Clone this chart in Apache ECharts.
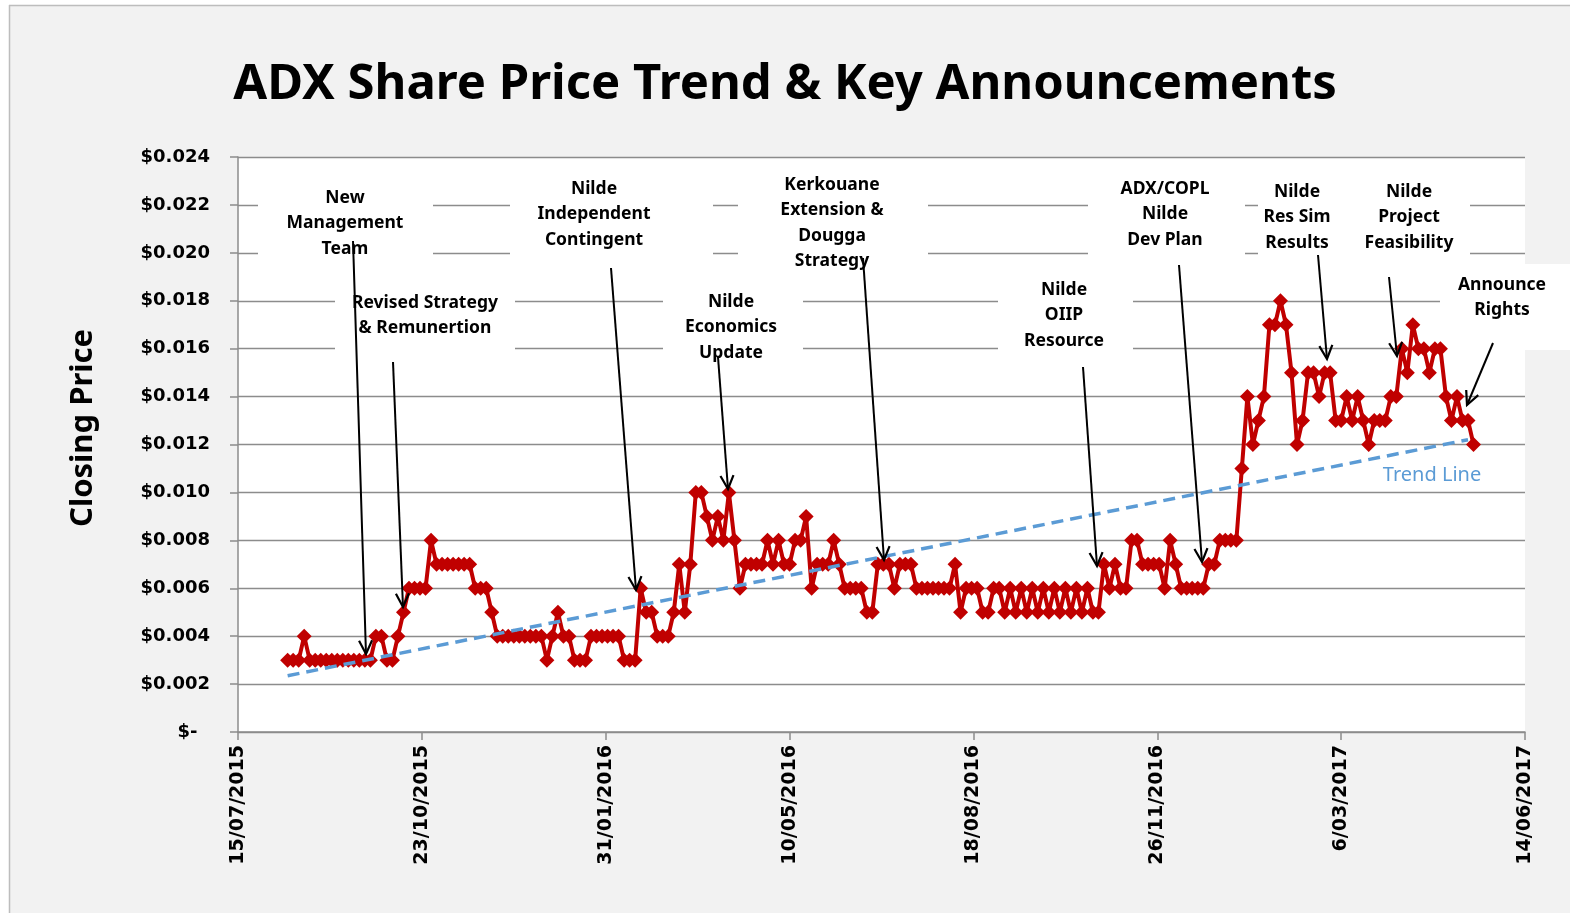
<!DOCTYPE html>
<html>
<head>
<meta charset="utf-8">
<title>ADX Share Price Trend & Key Announcements</title>
<script src="https://cdn.jsdelivr.net/npm/echarts@6/dist/echarts.min.js"></script>
<style>
  html, body { margin: 0; padding: 0; background: #fff; }
  #chart { width: 1570px; height: 913px; }
</style>
</head>
<body>
<div id="chart"></div>
<script>
// x axis counts days from 15/07/2015, one tick every 100 days
var axisStartUTC = Date.UTC(2015, 6, 15);
var xMaxDays = 700;
var xTickDays = 100;

// closing prices, one reading every 3 days starting at day 27 (11/08/2015)
var firstDay = 27;
var stepDays = 3;
var closes = [
  0.003, 0.003, 0.003, 0.004, 0.003, 0.003, 0.003, 0.003, 0.003, 0.003,
  0.003, 0.003, 0.003, 0.003, 0.003, 0.003, 0.004, 0.004, 0.003, 0.003,
  0.004, 0.005, 0.006, 0.006, 0.006, 0.006, 0.008, 0.007, 0.007, 0.007,
  0.007, 0.007, 0.007, 0.007, 0.006, 0.006, 0.006, 0.005, 0.004, 0.004,
  0.004, 0.004, 0.004, 0.004, 0.004, 0.004, 0.004, 0.003, 0.004, 0.005,
  0.004, 0.004, 0.003, 0.003, 0.003, 0.004, 0.004, 0.004, 0.004, 0.004,
  0.004, 0.003, 0.003, 0.003, 0.006, 0.005, 0.005, 0.004, 0.004, 0.004,
  0.005, 0.007, 0.005, 0.007, 0.010, 0.010, 0.009, 0.008, 0.009, 0.008,
  0.010, 0.008, 0.006, 0.007, 0.007, 0.007, 0.007, 0.008, 0.007, 0.008,
  0.007, 0.007, 0.008, 0.008, 0.009, 0.006, 0.007, 0.007, 0.007, 0.008,
  0.007, 0.006, 0.006, 0.006, 0.006, 0.005, 0.005, 0.007, 0.007, 0.007,
  0.006, 0.007, 0.007, 0.007, 0.006, 0.006, 0.006, 0.006, 0.006, 0.006,
  0.006, 0.007, 0.005, 0.006, 0.006, 0.006, 0.005, 0.005, 0.006, 0.006,
  0.005, 0.006, 0.005, 0.006, 0.005, 0.006, 0.005, 0.006, 0.005, 0.006,
  0.005, 0.006, 0.005, 0.006, 0.005, 0.006, 0.005, 0.005, 0.007, 0.006,
  0.007, 0.006, 0.006, 0.008, 0.008, 0.007, 0.007, 0.007, 0.007, 0.006,
  0.008, 0.007, 0.006, 0.006, 0.006, 0.006, 0.006, 0.007, 0.007, 0.008,
  0.008, 0.008, 0.008, 0.011, 0.014, 0.012, 0.013, 0.014, 0.017, 0.017,
  0.018, 0.017, 0.015, 0.012, 0.013, 0.015, 0.015, 0.014, 0.015, 0.015,
  0.013, 0.013, 0.014, 0.013, 0.014, 0.013, 0.012, 0.013, 0.013, 0.013,
  0.014, 0.014, 0.016, 0.015, 0.017, 0.016, 0.016, 0.015, 0.016, 0.016,
  0.014, 0.013, 0.014, 0.013, 0.013, 0.012
];

// linear trend, end points [day, price]
var trendLine = [[27, 0.00235], [669, 0.0122]];

var yMin = 0, yMax = 0.024, yStep = 0.002;

// key announcements: text lines, first line centre, white box [x, y, w, h], arrow from -> to
var announcements = [
  { lines: ['New', 'Management', 'Team'], x: 345, y: 198, box: [258, 178, 175, 88], from: [353, 241], to: [366, 654] },
  { lines: ['Revised Strategy', '& Remunertion'], x: 425, y: 303, box: [335, 285, 180, 66], from: [393, 362], to: [403, 607] },
  { lines: ['Nilde', 'Independent', 'Contingent'], x: 594, y: 189, box: [510, 170, 203, 95], from: [611, 268], to: [636, 590] },
  { lines: ['Nilde', 'Economics', 'Update'], x: 731, y: 302, box: [663, 283, 140, 85], from: [718, 357], to: [728, 489] },
  { lines: ['Kerkouane', 'Extension &', 'Dougga', 'Strategy'], x: 832, y: 185, box: [738, 168, 190, 108], from: [863, 258], to: [884, 560] },
  { lines: ['Nilde', 'OIIP', 'Resource'], x: 1064, y: 290, box: [998, 272, 135, 86], from: [1083, 367], to: [1097, 566] },
  { lines: ['ADX/COPL', 'Nilde', 'Dev Plan'], x: 1165, y: 189, box: [1088, 170, 157, 95], from: [1179, 265], to: [1202, 562] },
  { lines: ['Nilde', 'Res Sim', 'Results'], x: 1297, y: 192, box: [1258, 172, 82, 93], from: [1318, 255], to: [1327, 359] },
  { lines: ['Nilde', 'Project', 'Feasibility'], x: 1409, y: 192, box: [1340, 172, 130, 93], from: [1389, 277], to: [1397, 356] },
  { lines: ['Announce', 'Rights'], x: 1502, y: 285, box: [1440, 264, 130, 86], from: [1493, 343], to: [1467, 405] }
];

function pad2(n) { return n < 10 ? '0' + n : '' + n; }
function dayLabel(d) {
  var t = new Date(axisStartUTC + d * 86400000);
  return t.getUTCDate() + '/' + pad2(t.getUTCMonth() + 1) + '/' + t.getUTCFullYear();
}

var priceData = closes.map(function (v, i) { return [firstDay + i * stepDays, v]; });

var gridColor = '#8c8c8c';
var noteFont = 'bold 17.5px "Noto Sans", sans-serif';

var graphics = [
  // outer white strip + border of the chart area (screenshot edge)
  { type: 'rect', shape: { x: 0, y: 0, width: 1570, height: 5 }, style: { fill: '#fff' }, z: 1 },
  { type: 'rect', shape: { x: 0, y: 0, width: 9, height: 913 }, style: { fill: '#fff' }, z: 1 },
  { type: 'line', shape: { x1: 9, y1: 5.5, x2: 1570, y2: 5.5 }, style: { stroke: '#bdbdbd', lineWidth: 1.5 }, z: 1 },
  { type: 'line', shape: { x1: 9.5, y1: 5, x2: 9.5, y2: 913 }, style: { stroke: '#bdbdbd', lineWidth: 1.5 }, z: 1 },
  // y axis title
  { type: 'text', x: 83, y: 428, rotation: Math.PI / 2, z: 10,
    style: { text: 'Closing Price', fill: '#000', font: 'bold 31px "Noto Sans", sans-serif', align: 'center', verticalAlign: 'middle' } },
  { type: 'text', x: 1432, y: 475, z: 10,
    style: { text: 'Trend Line', fill: '#5b9bd5', font: '20px "Noto Sans", sans-serif', align: 'center', verticalAlign: 'middle' } }
];

announcements.forEach(function (a) {
  graphics.push({
    type: 'rect', z: 1,
    shape: { x: a.box[0], y: a.box[1], width: a.box[2], height: a.box[3] },
    style: { fill: '#ffffff' }
  });
  graphics.push({
    type: 'text', z: 10, x: a.x, y: a.y - 12.75,
    style: { text: a.lines.join('\n'), font: noteFont, fill: '#000', align: 'center', verticalAlign: 'top', lineHeight: 25.5 }
  });
  graphics.push({
    type: 'line', z: 11,
    shape: { x1: a.from[0], y1: a.from[1], x2: a.to[0], y2: a.to[1] },
    style: { stroke: '#000', lineWidth: 2 }
  });
  // open arrow head
  var ang = Math.atan2(a.to[1] - a.from[1], a.to[0] - a.from[0]);
  var len = 15, spread = 0.45;
  graphics.push({
    type: 'polyline', z: 11,
    shape: { points: [
      [a.to[0] - len * Math.cos(ang - spread), a.to[1] - len * Math.sin(ang - spread)],
      [a.to[0], a.to[1]],
      [a.to[0] - len * Math.cos(ang + spread), a.to[1] - len * Math.sin(ang + spread)]
    ] },
    style: { stroke: '#000', lineWidth: 2.2, fill: null }
  });
});

var chart = echarts.init(document.getElementById('chart'));
var option = {
  animation: false,
  backgroundColor: '#f2f2f2',
  title: {
    text: 'ADX Share Price Trend & Key Announcements',
    left: 'center',
    top: 56,
    textStyle: { fontFamily: '"Noto Sans", sans-serif', fontWeight: 'bold', fontSize: 49, color: '#000' }
  },
  grid: {
    left: 238, right: 45, top: 157, bottom: 181,
    show: true, backgroundColor: '#ffffff', borderWidth: 0
  },
  xAxis: {
    type: 'value',
    min: 0, max: xMaxDays, interval: xTickDays,
    axisLine: { show: true, lineStyle: { color: gridColor, width: 1.5 } },
    axisTick: { show: true, length: 8, lineStyle: { color: gridColor, width: 1.5 } },
    splitLine: { show: false },
    axisLabel: {
      rotate: 90, margin: 13,
      color: '#000', fontFamily: '"DejaVu Sans", sans-serif', fontWeight: 'bold', fontSize: 19,
      formatter: function (v) { return dayLabel(v); }
    }
  },
  yAxis: {
    type: 'value',
    min: yMin, max: yMax, interval: yStep,
    axisLine: { show: true, lineStyle: { color: gridColor, width: 1.5 } },
    axisTick: { show: true, length: 8, lineStyle: { color: gridColor, width: 1.5 } },
    splitLine: { show: true, lineStyle: { color: gridColor, width: 1.3 } },
    axisLabel: {
      margin: 28,
      color: '#000', fontFamily: '"DejaVu Sans", sans-serif', fontWeight: 'bold', fontSize: 18,
      formatter: function (v) { return v === 0 ? '$-  ' : '$' + v.toFixed(3); }
    }
  },
  series: [
    {
      name: 'Closing Price',
      type: 'line',
      data: priceData,
      symbol: 'diamond',
      symbolSize: 15,
      itemStyle: { color: '#c00000' },
      lineStyle: { color: '#c00000', width: 4 },
      z: 3
    },
    {
      name: 'Trend Line',
      type: 'line',
      data: trendLine,
      symbol: 'none',
      lineStyle: { color: '#5b9bd5', width: 3.5, type: [12, 7] },
      z: 4
    }
  ],
  graphic: graphics
};
chart.setOption(option);
</script>
</body>
</html>
